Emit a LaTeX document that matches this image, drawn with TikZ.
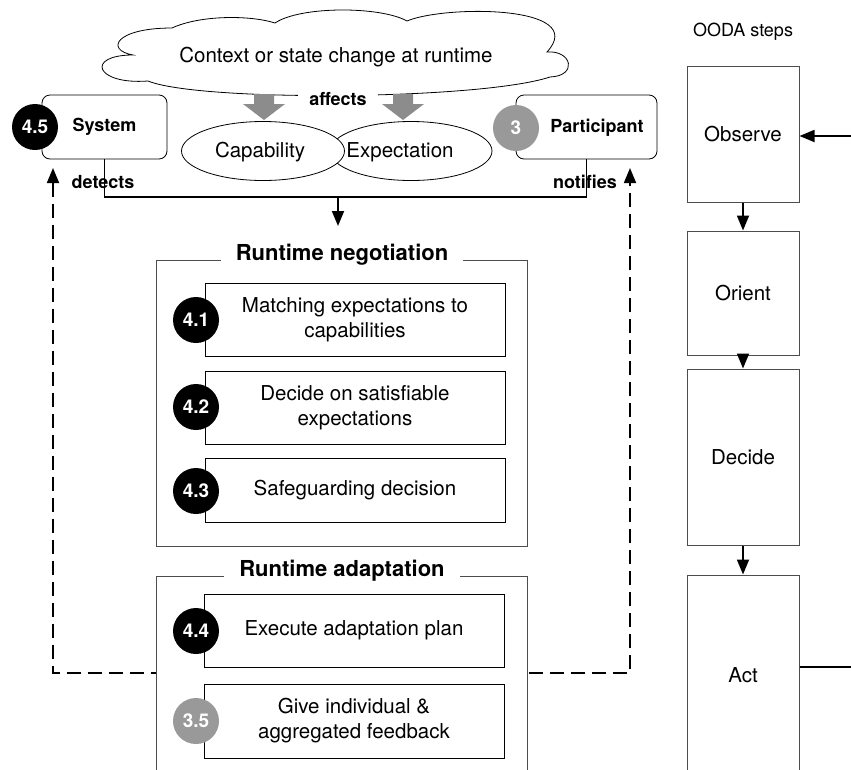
\documentclass[tikz,border=0pt]{standalone}
\usepackage{fontspec}
\setmainfont{TeX Gyre Heros}
\usetikzlibrary{arrows.meta,positioning,shapes.geometric}
\definecolor{framegray}{HTML}{4D4D4D}
\definecolor{stepgray}{HTML}{999999}
\definecolor{arrowgray}{HTML}{8C8C8C}

\tikzset{
  normtext/.style={font=\fontsize{20.5}{25}\selectfont},
  tagtext/.style={font=\fontsize{18}{22}\selectfont\bfseries},
  actorbox/.style={draw, rounded corners=8pt, fill=white, minimum height=64pt, line width=0.8pt},
  numdot/.style={circle, fill=black, text=white, minimum size=46pt, inner sep=0pt,
    font=\fontsize{19}{22}\selectfont\bfseries},
  graydot/.style={numdot, fill=stepgray},
  notion/.style={ellipse, draw, fill=white, minimum height=59pt, line width=0.8pt},
  taskbox/.style={draw, fill=white, minimum width=300pt, align=center, normtext, line width=0.8pt},
  phasebox/.style={draw=framegray, fill=white, minimum width=371pt, line width=1pt},
  phasetitle/.style={fill=white, inner xsep=15pt, font=\fontsize{22}{26}\selectfont\bfseries},
  oodabox/.style={draw=framegray, minimum width=112pt, normtext, line width=1pt},
  link/.style={line width=1.8pt, ->},
  fbline/.style={line width=1.8pt, dash pattern=on 14pt off 7pt, <->},
  >={Triangle[length=15pt,width=12pt]}
}

\begin{document}
\begin{tikzpicture}[x=1pt,y=-1pt]
  \useasboundingbox (0,0) rectangle (851,769);
  \clip (0,0) rectangle (851,769);

  % feedback from adaptation back to system and participant
  \coordinate (fbL) at (53,168);
  \coordinate (fbR) at (630,168);
  \coordinate (fbM) at (342,673);
  \draw[fbline] (fbL) |- (fbM) -| (fbR);

  % cloud
  \filldraw[fill=white, line width=0.8pt] (133,55)
    .. controls (105,50) and (115,28) .. (172,28)
    .. controls (200,15) and (250,15) .. (275,23)
    .. controls (300,6) and (380,6) .. (407,21)
    .. controls (445,5) and (590,5) .. (547,52)
    .. controls (572,50) and (578,76) .. (550,77)
    .. controls (480,100) and (200,102) .. (148,81)
    .. controls (95,85) and (85,55) .. (133,55) -- cycle;
  \node[normtext] (ctx) at (336,57) {Context or state change at runtime};
  \foreach \x in {264,403}
    \fill[arrowgray] (\x-10,94) -- ++(20,0) -- ++(0,10) -- ++(11,0) -- (\x,120)
      -- (\x-21,104) -- ++(11,0) -- cycle;
  \node[tagtext, fill=white, inner xsep=11pt, inner ysep=1pt] (aff) at (338,99) {affects};

  \node[notion, minimum width=162pt] (expect) at (411,151) {};
  \node[notion, minimum width=163pt] (capab) at (263,151) {};
  \node[normtext] (captxt) at (260,152) {Capability};
  \node[normtext] (exptxt) at (400,152) {Expectation};

  \node[actorbox, minimum width=125pt, tagtext] (sys) at (104.5,127) {System};
  \node[numdot] (n45) at (35,127) {4.5};
  \node[actorbox, minimum width=141pt] (part) at (586.5,127) {};
  \node[tagtext] (parttxt) at (597,128) {Participant};
  \node[graydot] (n3) at (516,128) {3};

  \coordinate (join) at (338,197);
  \coordinate (negin) at (338,226);
  \draw[line width=1.8pt] (sys.south) |- (join) -| (part.south);
  \draw[link] (join) -- (negin);
  \node[tagtext] (det) at (103,182) {detects};
  \node[tagtext] (notif) at (585,182) {notifies};

  \node[phasebox, minimum height=286pt] (neg) at (341.5,403) {};
  \node[phasetitle] (negtitle) at (342,255) {Runtime negotiation};
  \node[taskbox, minimum height=73pt] (t41) at (355,319.5) {Matching expectations to\\capabilities};
  \node[taskbox, minimum height=73pt] (t42) at (355,407.5) {Decide on satisfiable\\expectations};
  \node[taskbox, minimum height=64pt] (t43) at (355,490) {Safeguarding decision};
  \node[numdot] (n41) at (196,320) {4.1};
  \node[numdot] (n42) at (196,407) {4.2};
  \node[numdot] (n43) at (196,491) {4.3};

  \node[phasebox, minimum height=250pt] (adapt) at (341.5,701) {};
  \node[phasetitle] (adapttitle) at (342,571) {Runtime adaptation};
  \node[taskbox, minimum height=73pt] (t44) at (354,630.5) {Execute adaptation plan};
  \node[taskbox, minimum height=74pt] (t35) at (354,721) {Give individual \&\\aggregated feedback};
  \node[numdot] (n44) at (196,631) {4.4};
  \node[graydot] (n35) at (196,721) {3.5};

  \node[font=\fontsize{18}{22}\selectfont] (ooda) at (743,32) {OODA steps};
  \node[oodabox, minimum height=136pt] (obs) at (743,134) {Observe};
  \node[oodabox, minimum height=124pt] (ori) at (743,293) {Orient};
  \node[oodabox, minimum height=176pt] (dec) at (743,457) {Decide};
  \node[oodabox, minimum height=200pt] (act) at (743,675) {Act};
  \draw[link] (obs) -- (ori);
  \draw[link] (ori) -- (dec);
  \draw[link] (dec) -- (act);
  \coordinate (loopin) at (851,136);
  \coordinate (loopout) at (851,667);
  \draw[link] (loopin) -- (obs.east |- loopin);
  \draw[line width=1.8pt] (act.east |- loopout) -- (loopout);
\end{tikzpicture}
\end{document}
